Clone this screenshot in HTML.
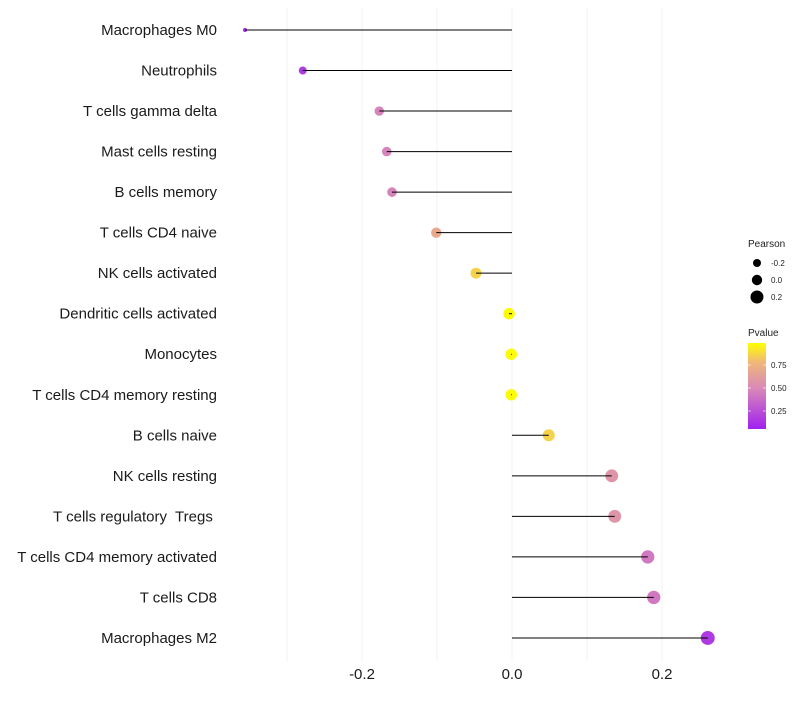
<!DOCTYPE html>
<html><head><meta charset="utf-8">
<style>
body{margin:0;background:#fff;font-family:"Liberation Sans",sans-serif;}
svg text{font-family:"Liberation Sans",sans-serif;}
</style></head>
<body>
<svg id="chart" width="800" height="700" xmlns="http://www.w3.org/2000/svg">
<defs>
<linearGradient id="pgrad" x1="0" y1="1" x2="0" y2="0">
<stop offset="0" stop-color="#a020f0"/>
<stop offset="0.47" stop-color="#d889b8"/>
<stop offset="0.78" stop-color="#f0b878"/>
<stop offset="1" stop-color="#ffff00"/>
</linearGradient>
</defs>
<g id="grid"></g>
<g id="marks"></g>
<g id="ylabels"></g>
<g id="xlabels"></g>
<g>
<text x="748" y="247" font-size="10" fill="#222">Pearson</text>
<circle cx="757" cy="263" r="4" fill="#000"/>
<text x="771" y="266" font-size="8" fill="#222">-0.2</text>
<circle cx="757" cy="280" r="5.2" fill="#000"/>
<text x="771" y="283" font-size="8" fill="#222">0.0</text>
<circle cx="757" cy="297" r="6.5" fill="#000"/>
<text x="771" y="300" font-size="8" fill="#222">0.2</text>
</g>
<g>
<text x="748" y="336" font-size="10" fill="#222">Pvalue</text>
<rect x="748" y="343" width="18" height="86" fill="url(#pgrad)"/>
<line x1="748" y1="365" x2="751" y2="365" stroke="#fff" opacity="0.6"/><line x1="763" y1="365" x2="766" y2="365" stroke="#fff" opacity="0.6"/>
<line x1="748" y1="388" x2="751" y2="388" stroke="#fff" opacity="0.6"/><line x1="763" y1="388" x2="766" y2="388" stroke="#fff" opacity="0.6"/>
<line x1="748" y1="411" x2="751" y2="411" stroke="#fff" opacity="0.6"/><line x1="763" y1="411" x2="766" y2="411" stroke="#fff" opacity="0.6"/>
<text x="771" y="368" font-size="8" fill="#222">0.75</text>
<text x="771" y="391" font-size="8" fill="#222">0.50</text>
<text x="771" y="414" font-size="8" fill="#222">0.25</text>
</g>
</svg>
<script>
const categories=["Macrophages M0","Neutrophils","T cells gamma delta","Mast cells resting","B cells memory","T cells CD4 naive","NK cells activated","Dendritic cells activated","Monocytes","T cells CD4 memory resting","B cells naive","NK cells resting","T cells regulatory  Tregs ","T cells CD4 memory activated","T cells CD8","Macrophages M2"];
const pearson=[-0.356,-0.279,-0.177,-0.167,-0.160,-0.101,-0.048,-0.004,-0.001,-0.001,0.049,0.133,0.137,0.181,0.189,0.261];
const pvalues=[0.05,0.12,0.45,0.45,0.45,0.68,0.86,0.99,0.99,0.99,0.86,0.55,0.55,0.4,0.4,0.12];
const xTicks=[-0.2,0.0,0.2];
const xTickLabels=["-0.2","0.0","0.2"];
const gridVals=[-0.3,-0.2,-0.1,0,0.1,0.2];

const NS="http://www.w3.org/2000/svg";
const xs=v=>512+v*750;
const ys=i=>30+i*40.53;
const minP=Math.min(...pearson);
const rs=v=>v<=minP+1e-9?2:Math.sqrt(Math.max(4,16+61*(v+0.279)));
const stops=[[0,[160,32,240]],[0.47,[216,137,184]],[0.78,[240,184,120]],[1,[255,255,0]]];
function col(p){for(let k=1;k<stops.length;k++){if(p<=stops[k][0]){const a=stops[k-1],b=stops[k];const t=(p-a[0])/(b[0]-a[0]);const c=a[1].map((x,j)=>Math.round(x+(b[1][j]-x)*t));return `rgb(${c})`;}}return "rgb(255,255,0)";}
function mk(tag,attrs,parent){const e=document.createElementNS(NS,tag);for(const k in attrs)e.setAttribute(k,attrs[k]);parent.appendChild(e);return e;}
const grid=document.getElementById('grid'),marks=document.getElementById('marks'),yl=document.getElementById('ylabels'),xl=document.getElementById('xlabels');
gridVals.forEach(v=>{const l=mk('line',{x1:xs(v),x2:xs(v),y1:8,y2:662,stroke:'#f3f3f3','stroke-width':1},grid);

});
categories.forEach((c,i)=>{
const y=ys(i);
const pt=mk('circle',{cx:xs(pearson[i]),cy:y,r:rs(pearson[i]),fill:col(pvalues[i])},marks);


const ln=mk('line',{x1:xs(0),x2:xs(pearson[i]),y1:y,y2:y,stroke:'#000','stroke-width':1},marks);


const t=mk('text',{x:217,y:y+5,'text-anchor':'end','font-size':15,fill:'#1a1a1a'},yl);
t.setAttribute('xml:space','preserve');
t.style.whiteSpace='pre';
t.textContent=c;


});
xTicks.forEach((v,i)=>{const t=mk('text',{x:xs(v),y:679,'text-anchor':'middle','font-size':15,fill:'#1a1a1a'},xl);
t.textContent=xTickLabels[i];

});
</script>
</body></html>
